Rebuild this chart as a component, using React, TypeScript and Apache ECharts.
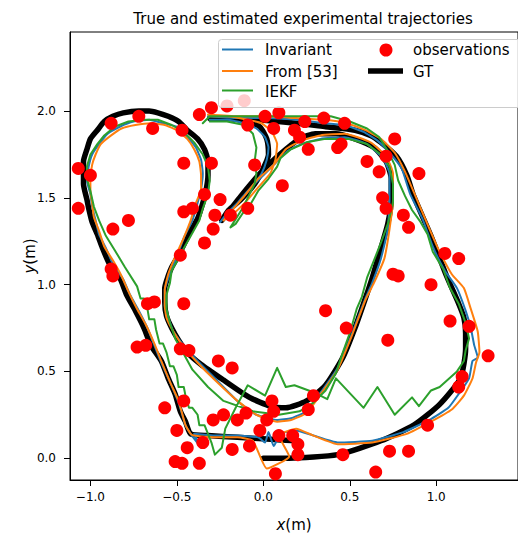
import React, { useEffect, useRef } from "react";
import * as echarts from "echarts";

const titleText = "True and estimated experimental trajectories";
const xTicks = [-1.0, -0.5, 0.0, 0.5, 1.0];
const yTicks = [0.0, 0.5, 1.0, 1.5, 2.0];
const xRange = [-1.118, 1.473];
const yRange = [-0.126, 2.456];

// Ground truth (two pieces, the recording has a jump near the origin)
const gtOuter = [[-0.31,1.96],[-0.04,1.95],[0.19,1.93],[0.36,1.91],[0.53,1.89],[0.62,1.86],[0.68,1.82],[0.77,1.74],[0.83,1.63],[0.87,1.51],[0.97,1.28],[1.06,1.05],[1.13,0.89],[1.16,0.81],[1.17,0.72],[1.17,0.63],[1.14,0.46],[1.02,0.31],[0.87,0.19],[0.68,0.10],[0.43,0.02],[0.15,0.0],[0.0,0.0]];
const gtInner = [[0.19,0.10],[0.02,0.11],[-0.15,0.12],[-0.32,0.13],[-0.42,0.14],[-0.45,0.21],[-0.48,0.27],[-0.51,0.37],[-0.55,0.46],[-0.59,0.56],[-0.65,0.65],[-0.69,0.75],[-0.74,0.85],[-0.79,0.94],[-0.83,1.04],[-0.89,1.12],[-0.93,1.21],[-0.96,1.29],[-0.99,1.36],[-1.01,1.44],[-1.02,1.49],[-1.04,1.58],[-1.04,1.65],[-1.04,1.71],[-1.02,1.78],[-1.00,1.84],[-0.96,1.89],[-0.92,1.94],[-0.87,1.97],[-0.81,1.99],[-0.72,2.00],[-0.66,2.00],[-0.61,1.99],[-0.55,1.97],[-0.49,1.94],[-0.44,1.89],[-0.38,1.84],[-0.34,1.78],[-0.32,1.71],[-0.32,1.63],[-0.33,1.55],[-0.35,1.47],[-0.38,1.38],[-0.42,1.31],[-0.46,1.23],[-0.49,1.17],[-0.53,1.10],[-0.55,1.05],[-0.57,0.98],[-0.57,0.90],[-0.56,0.82],[-0.53,0.75],[-0.49,0.68],[-0.44,0.61],[-0.36,0.54],[-0.23,0.45],[-0.08,0.35],[0.04,0.30],[0.13,0.29],[0.25,0.33],[0.36,0.42],[0.46,0.58],[0.53,0.75],[0.59,0.92],[0.63,1.04],[0.68,1.21],[0.72,1.35],[0.74,1.49],[0.74,1.61],[0.71,1.71],[0.64,1.79],[0.53,1.84],[0.42,1.87],[0.30,1.87],[0.21,1.84],[0.13,1.78],[0.05,1.71],[-0.02,1.64],[-0.13,1.51],[-0.24,1.37],[-0.20,1.43],[-0.13,1.49],[-0.05,1.58],[0.00,1.67],[0.03,1.75],[0.02,1.84],[-0.02,1.91],[-0.10,1.94],[-0.21,1.96],[-0.31,1.96]];

const invariant = [[-0.32,1.97],[-0.15,1.96],[0.02,1.96],[0.19,1.95],[0.36,1.93],[0.47,1.92],[0.58,1.88],[0.66,1.83],[0.73,1.76],[0.80,1.67],[0.85,1.52],[0.92,1.38],[0.98,1.22],[1.05,1.08],[1.12,0.98],[1.17,0.85],[1.20,0.75],[1.22,0.65],[1.24,0.58],[1.21,0.56],[1.19,0.46],[1.13,0.37],[1.07,0.29],[0.96,0.22],[0.81,0.15],[0.63,0.10],[0.43,0.09],[0.29,0.13],[0.19,0.16],[0.10,0.14],[0.06,0.07],[0.03,0.15],[0.01,0.09],[-0.03,0.12],[-0.15,0.13],[-0.29,0.13],[-0.40,0.14],[-0.36,0.06],[-0.42,0.14],[-0.45,0.19],[-0.49,0.32],[-0.54,0.44],[-0.59,0.55],[-0.63,0.65],[-0.67,0.75],[-0.72,0.85],[-0.77,0.94],[-0.81,1.03],[-0.87,1.12],[-0.91,1.21],[-0.95,1.29],[-0.97,1.37],[-0.99,1.45],[-1.00,1.52],[-1.02,1.60],[-1.01,1.68],[-0.99,1.75],[-0.95,1.81],[-0.90,1.87],[-0.83,1.91],[-0.75,1.94],[-0.66,1.95],[-0.58,1.93],[-0.50,1.91],[-0.44,1.85],[-0.39,1.79],[-0.36,1.72],[-0.35,1.64],[-0.36,1.55],[-0.38,1.47],[-0.41,1.37],[-0.46,1.27],[-0.50,1.16],[-0.54,1.06],[-0.57,0.97],[-0.57,0.88],[-0.55,0.81],[-0.52,0.73],[-0.46,0.65],[-0.38,0.56],[-0.28,0.46],[-0.15,0.33],[-0.04,0.25],[0.08,0.22],[0.16,0.23],[0.25,0.27],[0.34,0.39],[0.43,0.52],[0.51,0.71],[0.59,0.92],[0.63,1.01],[0.68,1.15],[0.72,1.32],[0.73,1.49],[0.73,1.64],[0.69,1.73],[0.60,1.81],[0.47,1.85],[0.33,1.84],[0.22,1.81],[0.14,1.77],[0.06,1.69],[-0.01,1.62],[-0.09,1.54],[-0.15,1.47],[-0.21,1.41],[-0.25,1.36],[-0.19,1.43],[-0.12,1.50],[-0.06,1.57],[-0.01,1.64],[0.02,1.72],[0.03,1.79],[0.01,1.85],[-0.04,1.90],[-0.11,1.93],[-0.21,1.95],[-0.31,1.95]];

const from53 = [[-0.32,1.98],[-0.15,1.97],[0.02,1.97],[0.19,1.96],[0.36,1.95],[0.48,1.93],[0.59,1.89],[0.68,1.84],[0.76,1.76],[0.82,1.65],[0.88,1.51],[0.94,1.37],[1.01,1.21],[1.09,1.06],[1.16,0.98],[1.20,0.86],[1.24,0.73],[1.25,0.61],[1.23,0.55],[1.21,0.46],[1.16,0.36],[1.09,0.28],[0.97,0.21],[0.83,0.14],[0.63,0.09],[0.43,0.08],[0.29,0.13],[0.19,0.17],[0.09,0.13],[0.15,0.01],[0.02,-0.06],[-0.06,0.10],[-0.15,0.12],[-0.29,0.12],[-0.40,0.13],[-0.42,0.14],[-0.45,0.19],[-0.49,0.33],[-0.54,0.44],[-0.59,0.56],[-0.63,0.66],[-0.68,0.77],[-0.73,0.86],[-0.78,0.96],[-0.82,1.05],[-0.87,1.14],[-0.92,1.22],[-0.95,1.31],[-0.98,1.39],[-0.99,1.47],[-1.00,1.54],[-1.00,1.61],[-0.99,1.69],[-0.97,1.75],[-0.94,1.81],[-0.88,1.86],[-0.82,1.90],[-0.74,1.92],[-0.65,1.93],[-0.57,1.92],[-0.50,1.89],[-0.44,1.84],[-0.40,1.78],[-0.37,1.71],[-0.36,1.63],[-0.36,1.55],[-0.39,1.47],[-0.42,1.37],[-0.46,1.27],[-0.51,1.16],[-0.55,1.06],[-0.57,0.97],[-0.57,0.88],[-0.56,0.81],[-0.52,0.73],[-0.46,0.64],[-0.38,0.55],[-0.28,0.45],[-0.15,0.33],[-0.04,0.25],[0.08,0.21],[0.16,0.22],[0.25,0.26],[0.34,0.38],[0.43,0.51],[0.51,0.70],[0.59,0.91],[0.64,1.01],[0.70,1.15],[0.73,1.32],[0.75,1.49],[0.75,1.64],[0.71,1.74],[0.62,1.82],[0.47,1.87],[0.33,1.86],[0.22,1.83],[0.13,1.78],[0.06,1.69],[-0.03,1.61],[-0.11,1.51],[-0.17,1.44],[-0.23,1.37],[-0.16,1.42],[-0.09,1.49],[-0.03,1.56],[0.04,1.64],[0.07,1.72],[0.08,1.81],[0.05,1.88],[-0.01,1.93],[-0.09,1.95],[-0.21,1.97],[-0.31,1.97]];

const iekf = [[-0.35,1.93],[-0.31,1.97],[-0.12,1.97],[0.08,1.97],[0.27,1.97],[0.39,1.97],[0.50,1.94],[0.60,1.90],[0.67,1.85],[0.72,1.77],[0.76,1.69],[0.78,1.60],[0.82,1.51],[0.86,1.43],[0.91,1.36],[0.95,1.29],[0.98,1.19],[1.04,1.09],[1.08,0.98],[1.13,0.89],[1.17,0.78],[1.19,0.69],[1.17,0.62],[1.16,0.56],[1.12,0.50],[1.02,0.41],[0.97,0.39],[0.90,0.30],[0.86,0.35],[0.76,0.25],[0.66,0.41],[0.58,0.29],[0.42,0.46],[0.37,0.34],[0.29,0.38],[0.18,0.42],[0.13,0.41],[0.08,0.52],[0.01,0.36],[-0.09,0.42],[-0.16,0.29],[-0.22,0.17],[-0.24,0.06],[-0.28,0.02],[-0.30,0.09],[-0.32,0.14],[-0.34,0.19],[-0.37,0.19],[-0.38,0.25],[-0.41,0.29],[-0.43,0.29],[-0.45,0.36],[-0.46,0.41],[-0.49,0.41],[-0.50,0.48],[-0.52,0.53],[-0.54,0.53],[-0.56,0.61],[-0.58,0.66],[-0.60,0.66],[-0.62,0.74],[-0.63,0.80],[-0.66,0.80],[-0.67,0.86],[-0.69,0.92],[-0.71,0.92],[-0.73,0.99],[-0.80,1.10],[-0.86,1.20],[-0.91,1.28],[-0.95,1.37],[-0.98,1.45],[-1.00,1.54],[-1.02,1.61],[-1.02,1.68],[-1.00,1.75],[-0.96,1.81],[-0.92,1.86],[-0.86,1.91],[-0.78,1.94],[-0.69,1.95],[-0.61,1.95],[-0.53,1.92],[-0.46,1.88],[-0.40,1.82],[-0.35,1.75],[-0.32,1.68],[-0.31,1.60],[-0.32,1.52],[-0.35,1.44],[-0.37,1.37],[-0.42,1.28],[-0.46,1.21],[-0.49,1.15],[-0.53,1.08],[-0.54,1.01],[-0.56,0.94],[-0.56,0.86],[-0.54,0.78],[-0.51,0.69],[-0.46,0.60],[-0.41,0.51],[-0.32,0.41],[-0.23,0.33],[-0.06,0.27],[0.09,0.25],[0.21,0.27],[0.29,0.32],[0.36,0.39],[0.42,0.49],[0.46,0.61],[0.50,0.72],[0.54,0.86],[0.57,0.93],[0.60,1.04],[0.64,1.14],[0.68,1.24],[0.72,1.35],[0.75,1.47],[0.75,1.58],[0.73,1.68],[0.68,1.75],[0.60,1.81],[0.49,1.84],[0.36,1.84],[0.25,1.82],[0.16,1.78],[0.10,1.73],[0.08,1.68],[0.03,1.61],[-0.03,1.54],[-0.07,1.47],[-0.12,1.41],[-0.16,1.35],[-0.19,1.33],[-0.12,1.44],[-0.08,1.52],[-0.05,1.58],[-0.04,1.64],[-0.05,1.71],[-0.04,1.79],[-0.06,1.87],[-0.11,1.92],[-0.21,1.94],[-0.31,1.94]];

const observations = [[-0.88,1.93],[-0.72,1.97],[-0.64,1.90],[-0.47,1.89],[-0.37,1.98],[-0.30,2.02],[-0.21,2.03],[-0.11,2.06],[-0.09,1.92],[0.01,1.97],[0.09,1.99],[0.06,1.90],[0.18,1.89],[0.21,1.85],[0.26,1.78],[0.24,1.94],[0.35,1.96],[0.47,1.93],[0.43,1.79],[0.45,1.81],[0.76,1.84],[0.60,1.71],[0.67,1.65],[0.71,1.74],[0.90,1.64],[0.69,1.50],[0.71,1.44],[0.81,1.40],[0.84,1.33],[1.05,1.18],[1.13,1.15],[0.75,1.06],[0.78,1.05],[0.97,1.00],[-1.07,1.67],[-1.00,1.63],[-0.46,1.70],[-0.30,1.70],[-0.05,1.69],[0.11,1.57],[-1.07,1.44],[-0.34,1.52],[-0.25,1.49],[-0.46,1.42],[-0.41,1.44],[-0.28,1.40],[-0.19,1.40],[-0.09,1.44],[-0.78,1.37],[-0.87,1.32],[-0.29,1.32],[-0.34,1.24],[-0.48,1.17],[-0.88,1.09],[-0.87,1.05],[-0.67,0.89],[-0.63,0.90],[-0.46,0.89],[-0.73,0.64],[-0.68,0.65],[-0.48,0.63],[-0.43,0.62],[-0.26,0.56],[-0.18,0.52],[-0.57,0.29],[-0.46,0.33],[-0.29,0.22],[-0.23,0.25],[-0.15,0.22],[-0.10,0.26],[0.05,0.33],[0.06,0.27],[-0.50,0.16],[-0.35,0.09],[-0.44,0.06],[-0.18,0.05],[-0.08,0.07],[-0.51,-0.02],[-0.47,-0.03],[-0.37,-0.03],[-0.02,0.16],[0.02,0.22],[0.09,0.13],[0.17,0.13],[0.20,0.08],[0.20,0.02],[0.07,-0.09],[0.36,0.85],[0.48,0.75],[0.72,0.68],[1.08,0.79],[1.19,0.76],[1.30,0.59],[1.15,0.47],[1.13,0.41],[0.29,0.36],[0.26,0.28],[0.46,0.02],[0.73,0.04],[0.84,0.04],[0.95,0.19],[0.65,-0.08]];

const FONT = "'DejaVu Sans', sans-serif";
const fmt = (v: number) => (v < 0 ? "\u2212" : "") + Math.abs(v).toFixed(1);

const BLUE = "#1f77b4";
const ORANGE = "#ff7f0e";
const GREEN = "#2ca02c";

export default function App() {
  const ref = useRef<HTMLDivElement>(null);
  useEffect(() => {
    if (!ref.current) return;
    const chart = echarts.init(ref.current, null, { renderer: "svg" });
    const lineSeries = (name: string, data: number[][], color: string, width: number, z: number, smooth: number | boolean) => ({
      name,
      type: "line",
      data,
      symbol: "none",
      showSymbol: false,
      smooth,
      silent: true,
      z,
      itemStyle: { color },
      lineStyle: { color, width, cap: "round", join: "round" },
    });
    const txt = (text: string, x: number, y: number) => ({
      type: "text",
      x,
      y,
      z: 101,
      style: { text, fill: "#000", font: `15px ${FONT}`, align: "left", verticalAlign: "middle" },
    });
    const hline = (x1: number, x2: number, y: number, color: string, w: number) => ({
      type: "line",
      z: 101,
      shape: { x1, y1: y, x2, y2: y },
      style: { stroke: color, lineWidth: w },
    });
    const nameStyle = {
      fontSize: 15,
      fontFamily: FONT,
      color: "#000",
      rich: { i: { fontStyle: "italic", fontSize: 15, fontFamily: FONT, color: "#000" } },
    };
    chart.setOption({
      animation: false,
      title: {
        text: titleText,
        left: 298,
        top: 6,
        textAlign: "center",
        textStyle: { fontSize: 15, fontWeight: "normal", fontFamily: FONT, color: "#000" },
      },
      grid: { left: 70, top: 32, right: -8, bottom: 54, show: true, borderColor: "#000", borderWidth: 1, backgroundColor: "transparent" },
      xAxis: {
        type: "value",
        min: xRange[0],
        max: xRange[1],
        splitLine: { show: false },
        axisLine: { show: true, onZero: false, lineStyle: { color: "#000", width: 1 } },
        axisTick: { show: true, length: 6, customValues: xTicks, lineStyle: { color: "#000" } },
        axisLabel: { customValues: xTicks, formatter: fmt, fontSize: 12, fontFamily: FONT, color: "#000", margin: 11 },
        name: "{i|x}(m)",
        nameLocation: "middle",
        nameGap: 37,
        nameMoveOverlap: false,
        nameTextStyle: nameStyle,
      },
      yAxis: {
        type: "value",
        min: yRange[0],
        max: yRange[1],
        splitLine: { show: false },
        axisLine: { show: true, onZero: false, lineStyle: { color: "#000", width: 1 } },
        axisTick: { show: true, length: 6, customValues: yTicks, lineStyle: { color: "#000" } },
        axisLabel: { customValues: yTicks, formatter: fmt, fontSize: 12, fontFamily: FONT, color: "#000", margin: 14 },
        name: "{i|y}(m)",
        nameLocation: "middle",
        nameGap: 33,
        nameMoveOverlap: false,
        nameTextStyle: nameStyle,
      },
      series: [
        lineSeries("GT", gtOuter, "#000", 5.5, 1, 0.2),
        lineSeries("GT ", gtInner, "#000", 5.5, 1, 0.2),
        lineSeries("Invariant", invariant, BLUE, 2, 2, 0.15),
        lineSeries("From [53]", from53, ORANGE, 2, 2, 0.15),
        lineSeries("IEKF", iekf, GREEN, 2, 2, false),
        {
          name: "observations",
          type: "scatter",
          data: observations,
          symbol: "circle",
          symbolSize: 13,
          silent: true,
          z: 3,
          itemStyle: { color: "#ff0000", opacity: 1 },
        },
      ],
      graphic: [
        {
          type: "rect",
          z: 100,
          shape: { x: 218.5, y: 39.5, width: 310, height: 68, r: 3 },
          style: { fill: "rgba(255,255,255,0.8)", stroke: "#cccccc", lineWidth: 1 },
        },
        hline(222, 253, 49.5, BLUE, 2),
        txt("Invariant", 265, 50),
        hline(222, 253, 71, ORANGE, 2),
        txt("From [53]", 265, 72),
        hline(222, 253, 90.5, GREEN, 2),
        txt("IEKF", 265, 91.5),
        { type: "circle", z: 101, shape: { cx: 386, cy: 50, r: 6.5 }, style: { fill: "#ff0000" } },
        txt("observations", 413, 50),
        hline(368, 403, 71, "#000", 5.5),
        txt("GT", 413, 72),
      ],
    });
    return () => chart.dispose();
  }, []);
  return <div ref={ref} style={{ position: "absolute", left: 0, top: 0, width: 518, height: 537 }} />;
}
